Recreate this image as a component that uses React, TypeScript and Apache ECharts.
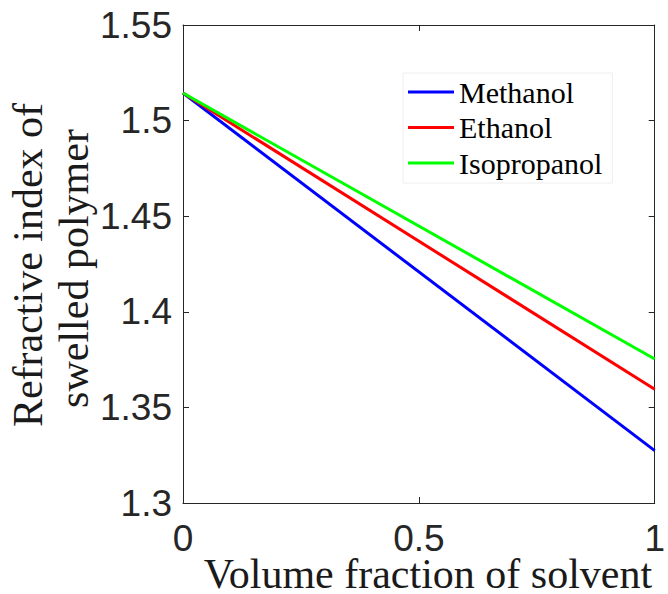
import React, { useEffect, useRef } from "react";
import * as echarts from "echarts";

const seriesNames = ["Methanol", "Ethanol", "Isopropanol"];
const seriesColors = ["#0000ff", "#ff0000", "#00ff00"];
const xValues = [0, 1];
const methanol = [1.5144, 1.3274];
const ethanol = [1.5144, 1.3595];
const isopropanol = [1.5144, 1.3753];
const xTicks = { min: 0, max: 1, interval: 0.5 };
const yTicks = { min: 1.3, max: 1.55, interval: 0.05 };
const xTitle = "Volume fraction of solvent";
const yTitleLines = ["Refractive index of", "swelled polymer"];

const axisColor = "#262626";
const fmt = (v: number) => parseFloat(v.toFixed(2)).toString();

export default function App() {
  const ref = useRef<HTMLDivElement>(null);
  useEffect(() => {
    if (!ref.current) return;
    const chart = echarts.init(ref.current, undefined, { renderer: "svg" });
    const values = [methanol, ethanol, isopropanol];
    const axisCommon = {
      type: "value" as const,
      axisLine: { show: true, onZero: false, lineStyle: { color: axisColor, width: 1 } },
      axisTick: { show: true, inside: true, length: 6, lineStyle: { color: axisColor, width: 1 } },
      splitLine: { show: false },
    };
    const titleStyle = {
      fontFamily: "Liberation Serif",
      fontSize: 42,
      lineHeight: 30,
      fill: "#1a1a1a",
      align: "center",
      verticalAlign: "middle",
    };
    chart.setOption({
      animation: false,
      backgroundColor: "#ffffff",
      grid: { left: 183, right: 6, top: 25, bottom: 91, containLabel: false },
      xAxis: [
        {
          ...axisCommon,
          position: "bottom",
          ...xTicks,
          axisLabel: {
            show: true,
            margin: 20,
            formatter: fmt,
            color: axisColor,
            fontFamily: "Liberation Sans",
            fontSize: 37,
            lineHeight: 30,
            showMinLabel: true,
            showMaxLabel: true,
          },
        },
        {
          ...axisCommon,
          position: "top",
          ...xTicks,
          axisLabel: { show: false },
        },
      ],
      yAxis: [
        {
          ...axisCommon,
          position: "left",
          ...yTicks,
          axisLabel: {
            show: true,
            margin: 11,
            formatter: fmt,
            color: axisColor,
            fontFamily: "Liberation Sans",
            fontSize: 37,
            showMinLabel: true,
            showMaxLabel: true,
          },
        },
        {
          ...axisCommon,
          position: "right",
          ...yTicks,
          axisLabel: { show: false },
        },
      ],
      legend: {
        orient: "vertical",
        left: 403,
        top: 73,
        data: seriesNames,
        icon: "rect",
        itemWidth: 46,
        itemHeight: 3,
        itemGap: 5.5,
        padding: [4, 10, 5, 5],
        borderColor: "#eeeeee",
        borderWidth: 1,
        backgroundColor: "#ffffff",
        selectedMode: false,
        textStyle: {
          fontFamily: "Liberation Serif",
          fontSize: 30,
          lineHeight: 30,
          color: "#000000",
        },
      },
      series: seriesNames.map((name, i) => ({
        name,
        type: "line",
        xAxisIndex: 0,
        yAxisIndex: 0,
        data: xValues.map((x, j) => [x, values[i][j]]),
        symbol: "none",
        color: seriesColors[i],
        lineStyle: { color: seriesColors[i], width: 3 },
        z: 2 + i,
      })),
      graphic: [
        {
          type: "text",
          x: 428,
          y: 574,
          style: { ...titleStyle, text: xTitle },
        },
        {
          type: "text",
          x: 27.5,
          y: 265,
          rotation: Math.PI / 2,
          style: { ...titleStyle, text: yTitleLines[0] },
        },
        {
          type: "text",
          x: 74,
          y: 268.5,
          rotation: Math.PI / 2,
          style: { ...titleStyle, text: yTitleLines[1] },
        },
      ],
    });
    return () => chart.dispose();
  }, []);
  return (
    <div
      ref={ref}
      style={{ position: "fixed", left: 0, top: 0, width: 668, height: 594, background: "#fff" }}
    />
  );
}
